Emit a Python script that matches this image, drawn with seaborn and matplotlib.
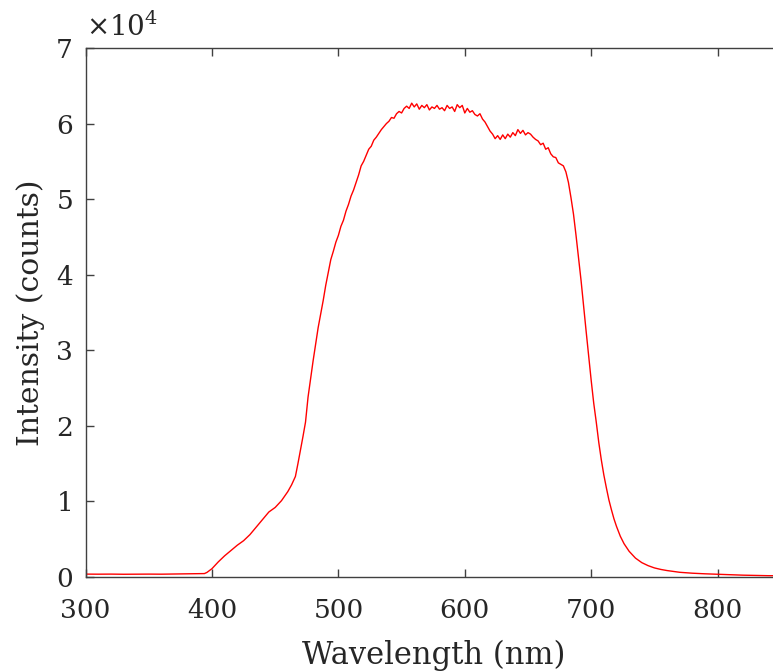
import matplotlib
matplotlib.use("Agg")
import matplotlib.pyplot as plt
import seaborn as sns
import pandas as pd

# Wavelength (nm) and intensity (x 10^4 counts)
wavelength = [300, 310, 320, 330, 340, 350, 360, 370, 380, 390, 394, 396, 400, 405, 410, 415, 420, 425, 430, 435,
              440, 445, 450, 455, 460, 463, 466, 468, 470, 472, 474, 476, 478, 480, 482, 484, 486, 488, 490, 492,
              494, 496, 498, 500, 502, 504, 506, 508, 510, 512, 514, 516, 518, 520, 522, 524, 526, 528, 530, 532,
              534, 536, 538, 540, 542, 544, 546, 548, 550, 552, 554, 556, 558, 560, 562, 564, 566, 568, 570, 572,
              574, 576, 578, 580, 582, 584, 586, 588, 590, 592, 594, 596, 598, 600, 602, 604, 606, 608, 610, 612,
              614, 616, 618, 620, 622, 624, 626, 628, 630, 632, 634, 636, 638, 640, 642, 644, 646, 648, 650, 652,
              654, 656, 658, 660, 662, 664, 666, 668, 670, 672, 674, 676, 678, 680, 682, 684, 686, 688, 690, 692,
              694, 696, 698, 700, 702, 704, 706, 708, 710, 712, 714, 716, 718, 720, 723, 726, 730, 735, 740, 745,
              750, 755, 760, 770, 780, 790, 800, 810, 820, 830, 840, 850]
intensity = [0.038, 0.037, 0.038, 0.036, 0.037, 0.038, 0.037, 0.039, 0.040, 0.042, 0.045, 0.06, 0.11, 0.20, 0.28,
             0.35, 0.42, 0.48, 0.56, 0.66, 0.76, 0.86, 0.92, 1.01, 1.13, 1.22, 1.33, 1.50, 1.68, 1.86, 2.05, 2.38,
             2.62, 2.86, 3.08, 3.30, 3.48, 3.66, 3.86, 4.03, 4.20, 4.31, 4.43, 4.52, 4.64, 4.72, 4.84, 4.93, 5.04,
             5.12, 5.22, 5.32, 5.44, 5.50, 5.58, 5.66, 5.70, 5.78, 5.82, 5.87, 5.92, 5.96, 6.00, 6.03, 6.08, 6.07,
             6.13, 6.16, 6.14, 6.20, 6.23, 6.20, 6.27, 6.22, 6.26, 6.19, 6.24, 6.21, 6.25, 6.18, 6.22, 6.20, 6.24,
             6.19, 6.21, 6.17, 6.24, 6.20, 6.22, 6.16, 6.25, 6.21, 6.24, 6.14, 6.20, 6.15, 6.17, 6.12, 6.10, 6.13,
             6.06, 6.02, 5.96, 5.90, 5.86, 5.80, 5.84, 5.79, 5.85, 5.80, 5.86, 5.82, 5.88, 5.84, 5.92, 5.87, 5.91,
             5.85, 5.88, 5.86, 5.82, 5.79, 5.77, 5.72, 5.74, 5.66, 5.68, 5.60, 5.56, 5.55, 5.48, 5.46, 5.44, 5.36,
             5.22, 5.02, 4.80, 4.52, 4.22, 3.92, 3.58, 3.25, 2.92, 2.60, 2.30, 2.05, 1.78, 1.55, 1.35, 1.18, 1.02,
             0.89, 0.77, 0.67, 0.54, 0.44, 0.34, 0.25, 0.19, 0.15, 0.12, 0.10, 0.085, 0.062, 0.050, 0.042, 0.036,
             0.030, 0.024, 0.020, 0.017, 0.016]

x_ticks = [300, 400, 500, 600, 700, 800]
y_ticks = [0, 1, 2, 3, 4, 5, 6, 7]

sns.set_style("ticks")
plt.rcParams["font.family"] = ["DejaVu Serif"]
plt.rcParams["mathtext.fontset"] = "dejavuserif"

axis_color = "#404040"
fig = plt.figure(figsize=(7.73, 6.72), dpi=100)
ax = fig.add_axes([0.1107, 0.1414, 0.8994, 0.7872])

df = pd.DataFrame({"wl": wavelength, "I": intensity})
sns.lineplot(data=df, x="wl", y="I", ax=ax, color="#ff0000", linewidth=1.0)

ax.set_xlim(300, 850)
ax.set_ylim(0, 7)
ax.set_xticks(x_ticks)
ax.set_yticks(y_ticks)
ax.tick_params(direction="in", length=6, width=1, colors=axis_color, labelsize=19,
               top=True, right=True, labelcolor="#262626")
ax.tick_params(axis="x", pad=15)
ax.tick_params(axis="y", pad=9)
for s in ax.spines.values():
    s.set_color(axis_color)
    s.set_linewidth(1.0)

ax.set_xlabel("Wavelength (nm)", fontsize=22, color="#262626", labelpad=12)
ax.set_ylabel("Intensity (counts)", fontsize=21.5, color="#262626", labelpad=8)
ax.text(0.0, 1.012, r"$\times10^{4}$", transform=ax.transAxes, fontsize=20,
        color="#262626", ha="left", va="bottom")

fig.savefig("out.png", dpi=100)
